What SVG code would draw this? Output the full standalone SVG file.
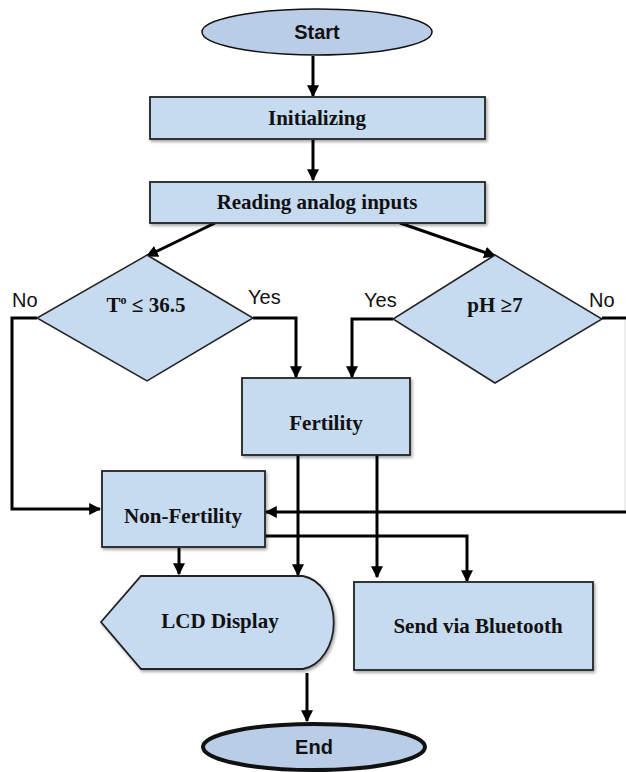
<svg xmlns="http://www.w3.org/2000/svg" width="626" height="772" viewBox="0 0 626 772">
<style>
.box{fill:#c6daf0;stroke:#222;stroke-width:1.8;filter:url(#sh)}
.dia{fill:#c6daf0;stroke:#222;stroke-width:1.5}
.ell{fill:#b9cde6;stroke:#111}
.t{font-family:"Liberation Serif",serif;font-weight:bold;font-size:21px;fill:#111;text-anchor:middle}
.ts{font-family:"Liberation Sans",sans-serif;font-weight:bold;font-size:20px;fill:#111;text-anchor:middle}
.lbl{font-family:"Liberation Sans",sans-serif;font-size:20px;fill:#111}
.c{fill:none;stroke:#000;stroke-width:3}
</style>
<defs>
<marker id="ah" viewBox="0 0 10 10" refX="9" refY="5" markerWidth="4" markerHeight="4" orient="auto" markerUnits="strokeWidth">
<path d="M0,0 L10,5 L0,10 z" fill="#000"/>
</marker>
<filter id="sh" x="-10%" y="-10%" width="120%" height="130%">
<feDropShadow dx="1.5" dy="2" stdDeviation="1.5" flood-color="#000" flood-opacity="0.35"/>
</filter>
</defs>
<g id="connectors">
<line class="c" x1="313" y1="56" x2="313" y2="96" marker-end="url(#ah)"/>
<line class="c" x1="313" y1="140" x2="313" y2="180" marker-end="url(#ah)"/>
<line class="c" x1="215" y1="223" x2="147" y2="256" marker-end="url(#ah)"/>
<line class="c" x1="400" y1="223" x2="495" y2="256" marker-end="url(#ah)"/>
<polyline class="c" points="37,318 12,318 12,509 100,509" marker-end="url(#ah)"/>
<polyline class="c" points="253,318 296,318 296,377" marker-end="url(#ah)"/>
<polyline class="c" points="393,319 352,319 352,377" marker-end="url(#ah)"/>
<line class="c" x1="602" y1="318" x2="626" y2="318"/>
<line x1="625" y1="320" x2="625" y2="510" stroke="#ddd" stroke-width="1"/>
<line class="c" x1="626" y1="512" x2="266" y2="512" marker-end="url(#ah)"/>
<line class="c" x1="298" y1="455" x2="298" y2="575" marker-end="url(#ah)"/>
<line class="c" x1="377" y1="455" x2="377" y2="577" marker-end="url(#ah)"/>
<polyline class="c" points="265,536 467,536 467,581" marker-end="url(#ah)"/>
<line class="c" x1="179" y1="548" x2="179" y2="574" marker-end="url(#ah)"/>
<line class="c" x1="307" y1="673" x2="307" y2="721" marker-end="url(#ah)"/>
</g>
<g id="start">
<ellipse class="ell" cx="317" cy="32" rx="115" ry="23" stroke-width="1.5"/>
<text class="ts" x="317" y="39">Start</text>
</g>
<g id="init">
<rect class="box" x="150" y="97" width="335" height="42"/>
<text class="t" x="317" y="125">Initializing</text>
</g>
<g id="read">
<rect class="box" x="150" y="182" width="335" height="41"/>
<text class="t" x="317" y="209">Reading analog inputs</text>
</g>
<g id="temp">
<polygon class="dia" points="147,255 253,318 147,381 37,318"/>
<text class="t" x="146" y="312">T<tspan font-size="12" dy="-8">o</tspan><tspan dy="8"> ≤ 36.5</tspan></text>
<text class="lbl" x="12" y="307">No</text>
<text class="lbl" x="248" y="304">Yes</text>
</g>
<g id="ph">
<polygon class="dia" points="495,255 602,319 495,383 393,319"/>
<text class="t" x="495" y="312">pH ≥7</text>
<text class="lbl" x="364" y="307">Yes</text>
<text class="lbl" x="589" y="307">No</text>
</g>
<g id="fertility">
<rect class="box" x="242" y="378" width="168" height="77"/>
<text class="t" x="326" y="430">Fertility</text>
</g>
<g id="nonfertility">
<rect class="box" x="102" y="471" width="163" height="76"/>
<text class="t" x="183" y="523">Non-Fertility</text>
</g>
<g id="lcd">
<path class="box" d="M101,622 L141,576 L303,576 A36,47 0 0 1 303,669 L141,669 Z"/>
<text class="t" x="220" y="628">LCD Display</text>
</g>
<g id="bluetooth">
<rect class="box" x="354" y="582" width="239" height="88"/>
<text class="t" x="478" y="633">Send via Bluetooth</text>
</g>
<g id="end">
<ellipse class="ell" cx="314" cy="747" rx="111" ry="23" stroke-width="4"/>
<text class="ts" x="314" y="754">End</text>
</g>
</svg>
